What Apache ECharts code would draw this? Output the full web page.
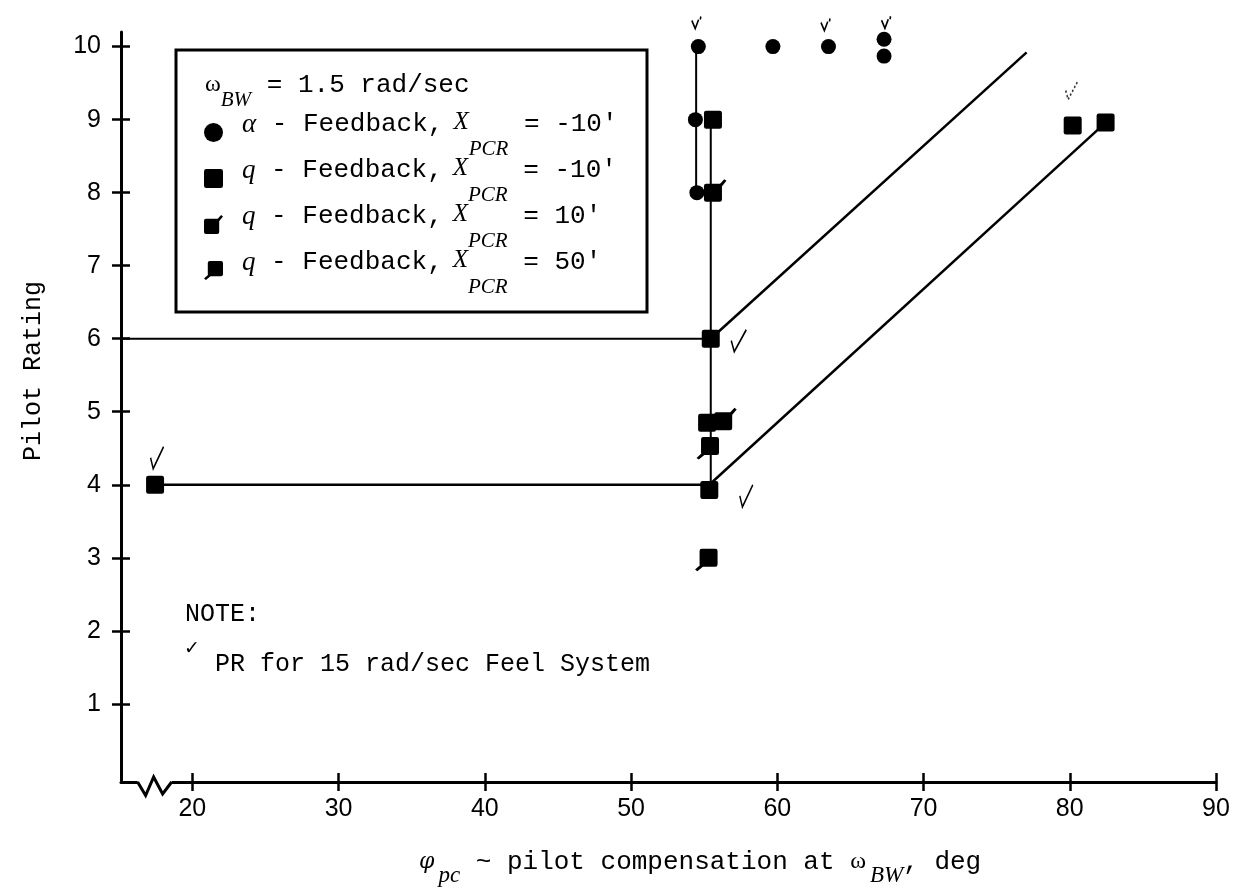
<!DOCTYPE html>
<html>
<head>
<meta charset="utf-8">
<script src="https://cdn.jsdelivr.net/npm/echarts@6/dist/echarts.min.js"></script>
<style>
  html, body { margin: 0; padding: 0; background: #fff; }
  #chart { width: 1241px; height: 890px; }
</style>
</head>
<body>
<div id="chart"></div>
<script>
// Pilot rating versus pilot compensation at the bandwidth frequency (ω_BW = 1.5 rad/sec)

// ---- axis ticks ----
const xTicks = [20, 30, 40, 50, 60, 70, 80, 90];
const yTicks = [1, 2, 3, 4, 5, 6, 7, 8, 9, 10];

// ---- rated configurations: [phase compensation (deg), pilot rating] ----
const alphaFeedbackXm10 = [[54.6, 10], [59.7, 10], [63.5, 10], [67.3, 10.1], [67.3, 9.87], [54.4, 9], [54.5, 8]];
const qFeedbackXm10 = [[55.6, 9], [55.45, 6], [55.2, 4.85], [55.35, 3.93], [17.45, 4], [80.2, 8.92], [82.45, 8.96]];
const qFeedbackX10 = [[55.6, 8], [56.3, 4.87]];
const qFeedbackX50 = [[55.4, 4.53], [55.3, 3]];

// configurations also rated with the 15 rad/sec feel system
const feelSystemRated = [[54.6, 10], [63.5, 10], [67.3, 10.1], [55.45, 6], [55.35, 3.93], [17.45, 4], [80.2, 8.92]];

// ---- connecting lines and rating boundaries ----
const alphaStem = [[54.45, 10], [54.45, 8]];
const qStem = [[55.45, 9], [55.45, 3.93]];
const level6 = [[15.12, 6], [55.45, 6]];
const level4 = [[17.45, 4], [55.35, 4]];
const upperBoundary = [[55.45, 6], [77.05, 9.92]];
const lowerBoundary = [[55.35, 4], [82.45, 8.96]];

// broken-scale marker on the abscissa
const axisBreakAt = [17.42];

// ---- layout / style ----
const X_MIN = 15.12, X_MAX = 90, Y_MIN = -0.07, Y_MAX = 10.2;
const INK = '#000';
const MONO = 'Liberation Mono';
const SERIF = 'Liberation Serif';

const squarePath = 'path://M2,0H14Q16,0 16,2V14Q16,16 14,16H2Q0,16 0,14V2Q0,0 2,0Z';
const squareFlagPath = 'path://M2,4H14Q16,4 16,6V18Q16,20 14,20H2Q0,20 0,18V6Q0,4 2,4Z M13.5,5L18,0L20,1.5L15.5,7Z';
const squareTailPath = 'path://M6,0H18Q20,0 20,2V14Q20,16 18,16H6Q4,16 4,14V2Q4,0 6,0Z M5.5,13.5L7.5,15.5L2,20L0,18.5Z';
const checkPath = 'path://M0,7 L2,14 L10,0';
const smallCheckPath = 'path://M0,4 L3,12 L6,3 M8,0 L7.5,3';

// how each feel-system check is drawn next to its point
const checkLook = [
  { shape: smallCheckPath, size: [9, 12], offset: [-2, -24] },
  { shape: smallCheckPath, size: [9, 12], offset: [-3, -22] },
  { shape: smallCheckPath, size: [9, 12], offset: [2, -17] },
  { shape: checkPath, size: [15, 22], offset: [28, 2] },
  { shape: checkPath, size: [13, 22], offset: [37, 6] },
  { shape: checkPath, size: [13, 22], offset: [2, -27] },
  { shape: checkPath, size: [12, 18], offset: [-1, -35], dashed: true }
];

function xAxisDef(inside) {
  return {
    type: 'value', min: X_MIN, max: X_MAX, position: 'bottom',
    axisLine: { show: !inside, onZero: false, lineStyle: { color: INK, width: 3 } },
    axisTick: { show: true, inside: inside, length: 9, customValues: xTicks, lineStyle: { color: INK, width: 2.5 } },
    axisLabel: { show: !inside, customValues: xTicks, margin: 15, color: INK, fontFamily: 'Liberation Sans', fontSize: 25 },
    splitLine: { show: false }
  };
}
function yAxisDef(inside) {
  return {
    type: 'value', min: Y_MIN, max: Y_MAX, position: 'left',
    axisLine: { show: !inside, onZero: false, lineStyle: { color: INK, width: 3 } },
    axisTick: { show: true, inside: inside, length: 9, customValues: yTicks, lineStyle: { color: INK, width: 2.5 } },
    axisLabel: { show: !inside, customValues: yTicks, margin: 20, color: INK, fontFamily: 'Liberation Sans', fontSize: 25 },
    splitLine: { show: false }
  };
}

function lineSeries(name, data, width) {
  return {
    type: 'line', name: name, data: data, symbol: 'none', silent: true, z: 1,
    lineStyle: { color: INK, width: width }
  };
}

function markerSeries(name, data, symbol, size, offset) {
  return {
    type: 'scatter', name: name, data: data, z: 3, silent: true,
    symbol: symbol, symbolSize: size, symbolOffset: offset,
    itemStyle: { color: INK, opacity: 1 }
  };
}

const legendText = {
  'alpha -10': "{g|α}{m| - Feedback,}{x|X}{s|PCR}{m| = -10'}",
  'q -10': "{g|q}{m| - Feedback,}{x|X}{s|PCR}{m| = -10'}",
  'q 10': "{g|q}{m| - Feedback,}{x|X}{s|PCR}{m| = 10'}",
  'q 50': "{g|q}{m| - Feedback,}{x|X}{s|PCR}{m| = 50'}"
};

const option = {
  backgroundColor: '#fff',
  animation: false,
  grid: { left: 121, right: 25, top: 32, bottom: 108, containLabel: false, outerBoundsMode: 'none' },
  xAxis: [xAxisDef(false), xAxisDef(true)],
  yAxis: [yAxisDef(false), yAxisDef(true)],
  legend: {
    orient: 'vertical', left: 204, top: 105, padding: 0, itemGap: -9,
    itemWidth: 19, itemHeight: 19, align: 'left', selectedMode: false,
    data: ['alpha -10', 'q -10', 'q 10', 'q 50'],
    formatter: function (name) { return legendText[name]; },
    itemStyle: { opacity: 1 },
    textStyle: {
      color: INK,
      rich: {
        g: { fontFamily: SERIF, fontStyle: 'italic', fontSize: 27, lineHeight: 26, padding: [0, 0, 16, 14] },
        m: { fontFamily: MONO, fontSize: 26, lineHeight: 26, padding: [0, 0, 16, 0] },
        x: { fontFamily: SERIF, fontStyle: 'italic', fontSize: 25, lineHeight: 26, padding: [0, 0, 20, 10] },
        s: { fontFamily: SERIF, fontStyle: 'italic', fontSize: 21, lineHeight: 20, padding: [34, 0, 0, 0] }
      }
    }
  },
  graphic: [
    // legend frame
    { type: 'rect', shape: { x: 176, y: 50, width: 471, height: 262 }, style: { fill: 'none', stroke: INK, lineWidth: 3 }, z: 10 },
    // legend heading
    {
      type: 'text', x: 205, y: 92.5, z: 10,
      style: {
        text: '{w|ω}{s|BW}{m| = 1.5 rad/sec}', fill: INK,
        align: 'left', textAlign: 'left', verticalAlign: 'middle', textVerticalAlign: 'middle',
        rich: {
          w: { fontFamily: SERIF, fontSize: 24, lineHeight: 26, padding: [0, 0, 15, 0] },
          s: { fontFamily: SERIF, fontStyle: 'italic', fontSize: 21, lineHeight: 21, padding: [15, 0, 0, 0] },
          m: { fontFamily: MONO, fontSize: 26, lineHeight: 26, padding: [0, 0, 15, 0] }
        }
      }
    },
    // note
    {
      type: 'text', x: 185, y: 614.5, z: 10,
      style: { text: 'NOTE:', fill: INK, fontFamily: MONO, fontSize: 25, align: 'left', textAlign: 'left', verticalAlign: 'middle', textVerticalAlign: 'middle' }
    },
    {
      type: 'text', x: 184, y: 664, z: 10,
      style: {
        text: '{c|✓}{m| PR for 15 rad/sec Feel System}', fill: INK,
        align: 'left', textAlign: 'left', verticalAlign: 'middle', textVerticalAlign: 'middle',
        rich: {
          c: { fontFamily: 'DejaVu Sans', fontSize: 19, lineHeight: 18, padding: [0, 0, 30, 0] },
          m: { fontFamily: MONO, fontSize: 25, lineHeight: 25 }
        }
      }
    },
    // abscissa title
    {
      type: 'text', x: 419, y: 869, z: 10,
      style: {
        text: "{p|φ}{s|pc}{m| ~ pilot compensation at }{w|ω}{s|BW}{m|, deg}", fill: INK,
        align: 'left', textAlign: 'left', verticalAlign: 'middle', textVerticalAlign: 'middle',
        rich: {
          p: { fontFamily: 'DejaVu Serif', fontStyle: 'italic', fontSize: 22, lineHeight: 26, padding: [0, 0, 14, 0] },
          s: { fontFamily: SERIF, fontStyle: 'italic', fontSize: 23, lineHeight: 22, padding: [14, 0, 0, 4] },
          m: { fontFamily: MONO, fontSize: 26, lineHeight: 26, padding: [0, 0, 14, 0] },
          w: { fontFamily: SERIF, fontSize: 24, lineHeight: 26, padding: [0, 0, 14, 0] }
        }
      }
    },
    // ordinate title
    {
      type: 'text', x: 33, y: 371, rotation: Math.PI / 2, z: 10,
      style: { text: 'Pilot Rating', fill: INK, fontFamily: MONO, fontSize: 25, align: 'center', textAlign: 'center', verticalAlign: 'middle', textVerticalAlign: 'middle' }
    }
  ],
  series: [
    lineSeries('alpha stem', alphaStem, 2),
    lineSeries('q stem', qStem, 2),
    lineSeries('PR 6', level6, 2),
    lineSeries('PR 4', level4, 2.5),
    lineSeries('upper boundary', upperBoundary, 2.5),
    lineSeries('lower boundary', lowerBoundary, 2.5),
    markerSeries('alpha -10', alphaFeedbackXm10, 'circle', 15, [0, 0]),
    markerSeries('q -10', qFeedbackXm10, squarePath, 18, [0, 0]),
    markerSeries('q 10', qFeedbackX10, squareFlagPath, 22.5, [2.25, -2.25]),
    markerSeries('q 50', qFeedbackX50, squareTailPath, 22.5, [-2.25, 2.25]),
    {
      type: 'scatter', name: '15 rad/sec feel', z: 4, silent: true,
      data: feelSystemRated.map(function (p, i) {
        const look = checkLook[i];
        return {
          value: p, symbol: look.shape, symbolSize: look.size, symbolOffset: look.offset,
          itemStyle: look.dashed ? { borderType: [2, 2], borderColor: '#333' } : {}
        };
      }),
      itemStyle: { color: 'rgba(0,0,0,0)', borderColor: INK, borderWidth: 1.8, opacity: 1 }
    },
    {
      type: 'custom', name: 'axis break', silent: true, clip: false, z: 5,
      data: axisBreakAt.map(function (x) { return [x, Y_MIN]; }),
      renderItem: function (params, api) {
        const c = api.coord([api.value(0), api.value(1)]);
        const zig = [[-17, 0], [-9, 13.5], [-1, -5], [8, 12], [17, 0]];
        return {
          type: 'group',
          children: [
            { type: 'rect', shape: { x: c[0] - 17, y: c[1] - 2.5, width: 34, height: 5 }, style: { fill: '#fff' } },
            { type: 'polyline', shape: { points: zig.map(function (p) { return [c[0] + p[0], c[1] + p[1]]; }) }, style: { stroke: INK, lineWidth: 3, fill: null } }
          ]
        };
      }
    }
  ]
};

const chart = echarts.init(document.getElementById('chart'), null, { renderer: 'canvas' });
chart.setOption(option);
</script>
</body>
</html>
